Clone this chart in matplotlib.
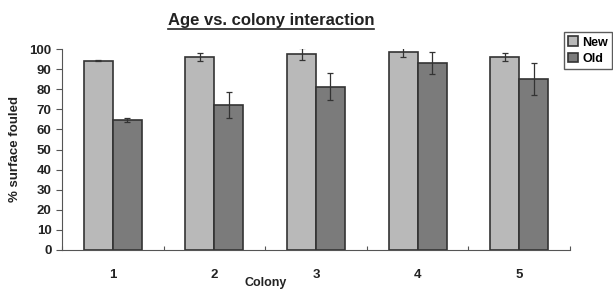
from matplotlib import pyplot as plt
import numpy as np

plt.rcParams['font.family'] = ['Liberation Sans', 'DejaVu Sans']

colonies = ['1', '2', '3', '4', '5']
new_vals = [94.2, 96.0, 97.5, 98.7, 96.2]
new_err = [0.4, 2.0, 3.0, 2.5, 2.0]
old_vals = [64.7, 72.0, 81.2, 92.9, 85.0]
old_err = [1.0, 6.5, 6.8, 5.5, 8.0]

fig = plt.figure(figsize=(6.13, 2.89), dpi=100)
ax = fig.add_axes([62 / 613, 1 - 250 / 289, 508 / 613, 201 / 289])

x = np.arange(1, len(colonies) + 1)
w = 0.285
ax.bar(x - w / 2, new_vals, w, yerr=new_err, color='#b9b9b9', edgecolor='#333333',
       linewidth=1.2, label='New', error_kw=dict(ecolor='#333333', elinewidth=0.9, capsize=2.5, capthick=0.9))
ax.bar(x + w / 2, old_vals, w, yerr=old_err, color='#7b7b7b', edgecolor='#333333',
       linewidth=1.2, label='Old', error_kw=dict(ecolor='#333333', elinewidth=0.9, capsize=2.5, capthick=0.9))

ax.set_xlim(0.5, 5.5)
ax.set_ylim(0, 100)
ax.set_yticks(np.arange(0, 101, 10))
ax.set_xticks(np.arange(0.5, 5.6, 1.0))
ax.set_xticklabels([])
ax.set_xticks(x, minor=True)
ax.set_xticklabels(colonies, minor=True)
ax.tick_params(axis='x', which='minor', length=0, pad=14)
ax.tick_params(axis='x', which='major', length=3, direction='in', color='#555555')
ax.tick_params(axis='y', length=4, color='#555555')
for lab in ax.get_xticklabels(minor=True) + ax.get_yticklabels():
    lab.set_fontweight('bold')
    lab.set_fontsize(9.5)
    lab.set_color('#222222')

for s in ['top', 'right']:
    ax.spines[s].set_visible(False)
for s in ['left', 'bottom']:
    ax.spines[s].set_color('#555555')

ax.set_ylabel('% surface fouled', fontsize=9.5, fontweight='bold', color='#222222', labelpad=6)

# x axis title sits left of centre in the original
fig.text(266 / 613, 1 - 283 / 289, 'Colony', ha='center', va='center',
         fontsize=9, fontweight='bold', color='#222222')

title = fig.text(271 / 613, 1 - 20 / 289, 'Age vs. colony interaction', ha='center', va='center',
                 fontsize=12, fontweight='bold', color='#222222')

# underline the title
fig.canvas.draw()
bb = title.get_window_extent().transformed(fig.transFigure.inverted())
fig.add_artist(plt.Line2D([bb.x0, bb.x1], [1 - 29 / 289] * 2, color='#222222', linewidth=1.2))

leg = fig.legend(loc='upper left', bbox_to_anchor=(564 / 613, 1 - 32 / 289), frameon=True,
                 fancybox=False, edgecolor='#333333', fontsize=9, handlelength=0.8,
                 handleheight=0.8, handletextpad=0.3, borderpad=0.35, labelspacing=0.35,
                 borderaxespad=0)
for t in leg.get_texts():
    t.set_fontweight('bold')

fig.savefig('out.png', dpi=100)
